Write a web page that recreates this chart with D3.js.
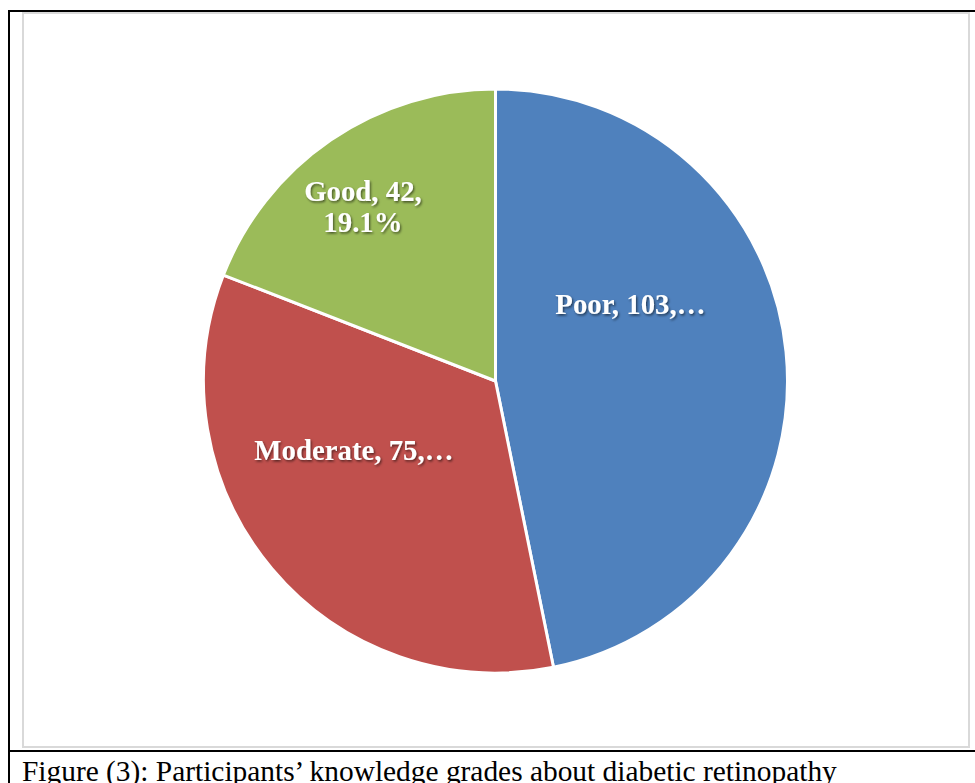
<!DOCTYPE html>
<html>
<head>
<meta charset="utf-8">
<script src="https://cdn.jsdelivr.net/npm/d3@7"></script>
<style>
  html, body { margin: 0; padding: 0; background: #fff; overflow: hidden; }
  svg { display: block; }
</style>
</head>
<body>
<svg id="chart" width="975" height="783"></svg>
<script>
// Knowledge grades of participants about diabetic retinopathy
const categories = ["Poor", "Moderate", "Good"];
const counts = [103, 75, 42];
const colors = ["#4F81BD", "#C0504D", "#9BBB59"];
const caption = "Figure (3): Participants\u2019 knowledge grades about diabetic retinopathy";

const W = 975, H = 783;
const svg = d3.select("#chart");

// page frame: table borders and the chart area outline
svg.append("line").attr("x1", 8).attr("x2", W).attr("y1", 11).attr("y2", 11)
  .attr("stroke", "#000").attr("stroke-width", 2);
svg.append("line").attr("x1", 9).attr("x2", 9).attr("y1", 10).attr("y2", H)
  .attr("stroke", "#000").attr("stroke-width", 2);
svg.append("line").attr("x1", 8).attr("x2", W).attr("y1", 751).attr("y2", 751)
  .attr("stroke", "#000").attr("stroke-width", 2);
svg.append("rect").attr("x", 23).attr("y", 13).attr("width", 946).attr("height", 734)
  .attr("fill", "#fff").attr("stroke", "#d9d9d9").attr("stroke-width", 2);

// drop shadow used by the data labels
const defs = svg.append("defs");
const f = defs.append("filter").attr("id", "lblShadow")
  .attr("x", "-20%").attr("y", "-40%").attr("width", "140%").attr("height", "180%");
f.append("feDropShadow").attr("dx", 1.2).attr("dy", 1.6).attr("stdDeviation", 1.1)
  .attr("flood-color", "#000").attr("flood-opacity", 0.55);

const cx = 495.5, cy = 381, R = 292;
const total = d3.sum(counts);
const data = categories.map((c, i) => ({ cat: c, value: counts[i], color: colors[i] }));

const pie = d3.pie().value(d => d.value).sort(null);
const arc = d3.arc().innerRadius(0).outerRadius(R);
const arcs = pie(data);

const g = svg.append("g").attr("transform", `translate(${cx},${cy})`);
g.selectAll("path.slice").data(arcs).join("path")
  .attr("class", "slice")
  .attr("d", arc)
  .attr("fill", d => d.data.color)
  .attr("stroke", "#fff").attr("stroke-width", 3).attr("stroke-linejoin", "round");

// label placement relative to the pie centre (fractions of radius), with line breaking
const labelLayout = {
  Poor:     { fx: 0.462,  fy: -0.229, mode: "truncate" },
  Moderate: { fx: -0.485, fy: 0.27,   mode: "truncate" },
  Good:     { fx: -0.454, fy: -0.615, mode: "wrap" }
};

const fontSize = 28.8, lineH = 31;
const labels = g.append("g")
  .attr("font-family", "'Liberation Serif', 'Times New Roman', serif")
  .attr("font-weight", "bold")
  .attr("font-size", fontSize)
  .attr("fill", "#fff")
  .attr("text-anchor", "middle")
  .attr("filter", "url(#lblShadow)");

arcs.forEach(a => {
  const d = a.data;
  const pct = (d.value / total * 100).toFixed(1) + "%";
  const L = labelLayout[d.cat];
  const t = labels.append("text")
    .attr("x", L.fx * R)
    .attr("y", L.fy * R);
  if (L.mode === "wrap") {
    t.append("tspan").attr("x", L.fx * R).attr("dy", 0).text(`${d.cat}, ${d.value},`);
    t.append("tspan").attr("x", L.fx * R).attr("dy", lineH).text(pct);
  } else {
    t.text(`${d.cat}, ${d.value},\u2026`);
  }
});

// caption below the chart
svg.append("text")
  .attr("x", 22).attr("y", 781)
  .attr("font-family", "'Liberation Serif', 'Times New Roman', serif")
  .attr("font-size", 29.4)
  .attr("fill", "#000")
  .text(caption);
</script>
</body>
</html>
